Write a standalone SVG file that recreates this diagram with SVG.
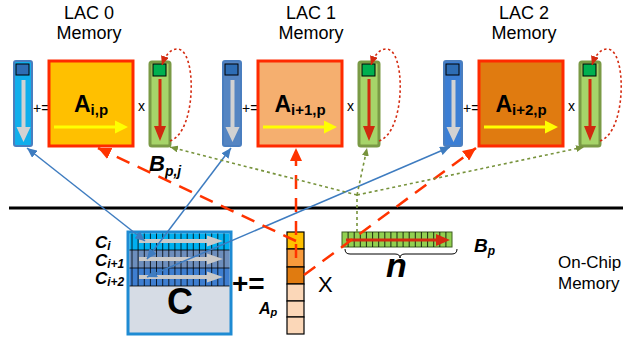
<svg xmlns="http://www.w3.org/2000/svg" width="626" height="341" viewBox="0 0 626 341">
<style>
text{font-family:"Liberation Sans",Arial,sans-serif;fill:#000}
.lbl{font-size:18px}
.op{font-size:14px}
.bi{font-weight:bold;font-style:italic}
.b{font-weight:bold}
.bcol{stroke:#4A7EBF;stroke-width:2}
.gcol{fill:#A6D469;stroke:#7A9A45;stroke-width:3}
.abox{stroke:#FF2A00;stroke-width:3}
.grid{stroke:#000;stroke-width:0.8}
.blue{stroke:#3E7CC0;stroke-width:1.5;fill:none}
.red{stroke:#FF3300;stroke-width:2.5;fill:none;stroke-dasharray:14 9}
.grn{stroke:#77933C;stroke-width:1.6;fill:none;stroke-dasharray:3 3}
.rdot{stroke:#D42A10;stroke-width:1.6;fill:none;stroke-dasharray:2.5 2.5}
</style>
<defs>
<marker id="mBlue" markerUnits="userSpaceOnUse" markerWidth="10" markerHeight="9" refX="10" refY="4.5" orient="auto-start-reverse"><path d="M0,0 L10,4.5 L0,9 z" fill="#3E7CC0"/></marker>
<marker id="mRed" markerUnits="userSpaceOnUse" markerWidth="13" markerHeight="12" refX="13" refY="6" orient="auto"><path d="M0,0 L13,6 L0,12 z" fill="#FF3300"/></marker>
<marker id="mGrn" markerUnits="userSpaceOnUse" markerWidth="8" markerHeight="7" refX="8" refY="3.5" orient="auto"><path d="M0,0 L8,3.5 L0,7 z" fill="#77933C"/></marker>
<marker id="mRdot" markerUnits="userSpaceOnUse" markerWidth="9" markerHeight="8" refX="9" refY="4" orient="auto"><path d="M0,0 L9,4 L0,8 z" fill="#D42A10"/></marker>
<g id="grayDown"><path d="M21.5,80 H25.5 V127 H30.5 L23.5,142 L16.5,127 H21.5 z" fill="#D2D2D2"/></g>
<g id="yelRight"><path d="M54,125.5 H115 V120.5 L128,127 L115,133.5 V128.5 H54 z" fill="#FFFF00"/></g>
<g id="redDown"><path d="M158.5,79 H161.5 V126 H166 L160,141 L154,126 H158.5 z" fill="#D0290F"/></g>
<g id="grayRight"><path d="M0,-2 H68 V-5.5 L84,0 L68,5.5 V2 H0 z" fill="#C9C9C9"/></g>
</defs>

<!-- LAC 0 -->
<g id="lac0">
  <text class="lbl" x="89" y="19" text-anchor="middle">LAC 0</text>
  <text class="lbl" x="89" y="39" text-anchor="middle">Memory</text>
  <g id="c_col0"><rect class="bcol" x="14" y="61" width="18" height="85" rx="2" fill="#10AEEC"/><rect x="16" y="64" width="13" height="11" fill="#2E6DB4" stroke="#000" stroke-width="1"/><use href="#grayDown"/></g>
  <text class="op" x="33" y="113">+=</text>
  <g id="a0"><rect class="abox" x="49" y="61" width="84" height="85" fill="#FFC000"/><use href="#yelRight"/>
    <text x="91" y="112" text-anchor="middle" class="b" font-size="23">A<tspan font-size="15" dy="3">i,p</tspan></text></g>
  <text class="op" x="138" y="111">x</text>
  <g id="b_col0"><rect class="gcol" x="150" y="62" width="20" height="84" rx="2"/><rect x="153" y="64" width="13" height="12" fill="#00B050" stroke="#000" stroke-width="1"/><use href="#redDown"/>
    <path class="rdot" d="M170,141 C197,132 197,48 177,49 C170,49 165,56 162,65" marker-end="url(#mRdot)"/></g>
</g>

<!-- LAC 1 -->
<g id="lac1">
  <text class="lbl" x="311" y="19" text-anchor="middle">LAC 1</text>
  <text class="lbl" x="311" y="39" text-anchor="middle">Memory</text>
  <g id="c_col1" transform="translate(209,0)"><rect class="bcol" x="14" y="61" width="18" height="85" rx="2" fill="#5585C2"/><rect x="16" y="64" width="13" height="11" fill="#2E6DB4" stroke="#000" stroke-width="1"/><use href="#grayDown"/></g>
  <text class="op" x="242" y="113">+=</text>
  <g id="a1"><rect class="abox" x="258" y="61" width="84" height="85" fill="#F5AF6F"/><use href="#yelRight" transform="translate(209,0)"/>
    <text x="300" y="112" text-anchor="middle" class="b" font-size="23">A<tspan font-size="15" dy="3">i+1,p</tspan></text></g>
  <text class="op" x="347" y="111">x</text>
  <g id="b_col1" transform="translate(209,0)"><rect class="gcol" x="150" y="62" width="20" height="84" rx="2"/><rect x="153" y="64" width="13" height="12" fill="#00B050" stroke="#000" stroke-width="1"/><use href="#redDown"/>
    <path class="rdot" d="M170,141 C197,132 197,48 177,49 C170,49 165,56 162,65" marker-end="url(#mRdot)"/></g>
</g>

<!-- LAC 2 -->
<g id="lac2">
  <text class="lbl" x="524" y="19" text-anchor="middle">LAC 2</text>
  <text class="lbl" x="524" y="39" text-anchor="middle">Memory</text>
  <g id="c_col2" transform="translate(430,0)"><rect class="bcol" x="14" y="61" width="18" height="85" rx="2" fill="#3B7ED4"/><rect x="16" y="64" width="13" height="11" fill="#2E6DB4" stroke="#000" stroke-width="1"/><use href="#grayDown"/></g>
  <text class="op" x="463" y="113">+=</text>
  <g id="a2"><rect class="abox" x="479" y="61" width="84" height="85" fill="#E07B10"/><use href="#yelRight" transform="translate(430,0)"/>
    <text x="521" y="112" text-anchor="middle" class="b" font-size="23">A<tspan font-size="15" dy="3">i+2,p</tspan></text></g>
  <text class="op" x="568" y="111">x</text>
  <g id="b_col2" transform="translate(430,0)"><rect class="gcol" x="150" y="62" width="20" height="84" rx="2"/><rect x="153" y="64" width="13" height="12" fill="#00B050" stroke="#000" stroke-width="1"/><use href="#redDown"/>
    <path class="rdot" d="M170,141 C197,132 197,48 177,49 C170,49 165,56 162,65" marker-end="url(#mRdot)"/></g>
</g>

<!-- boundary line -->
<line x1="9" y1="208" x2="623" y2="208" stroke="#000" stroke-width="3"/>

<!-- C matrix -->
<g id="cmatrix">
  <rect x="128" y="232" width="103" height="102" fill="#D6DCE5" stroke="#1E8BD3" stroke-width="3"/>
  <rect x="129.5" y="233.5" width="100" height="17" fill="#00B0F0"/>
  <rect x="129.5" y="250" width="100" height="18" fill="#6D8EBD"/>
  <rect x="129.5" y="268" width="100" height="18" fill="#3E7ED0"/>
  <g class="grid">
    <line x1="129.5" y1="250" x2="229.5" y2="250"/>
    <line x1="129.5" y1="268" x2="229.5" y2="268"/>
    <line x1="129.5" y1="286" x2="229.5" y2="286"/>
    <path d="M132,233.5V286M138.1,233.5V286M144.3,233.5V286M150.4,233.5V286M156.5,233.5V286M162.7,233.5V286M168.8,233.5V286M174.9,233.5V286M181,233.5V286M187.2,233.5V286M193.3,233.5V286M199.4,233.5V286M205.6,233.5V286M211.7,233.5V286M217.8,233.5V286M224,233.5V286"/>
  </g>
  <use href="#grayRight" transform="translate(139,241)"/>
  <use href="#grayRight" transform="translate(139,259)"/>
  <use href="#grayRight" transform="translate(139,277)"/>
  <text x="180" y="314" text-anchor="middle" class="b" font-size="36">C</text>
  <text class="bi" x="95" y="248" font-size="17">C<tspan font-size="12" dy="2">i</tspan></text>
  <text class="bi" x="95" y="266" font-size="17">C<tspan font-size="12" dy="2">i+1</tspan></text>
  <text class="bi" x="95" y="284" font-size="17">C<tspan font-size="12" dy="2">i+2</tspan></text>
</g>

<text class="b" x="232" y="293" font-size="28">+=</text>

<!-- A_p column -->
<g id="ap">
  <g stroke="#000" stroke-width="1.2">
    <rect x="287" y="232" width="17" height="17" fill="#FFC000"/>
    <rect x="287" y="249" width="17" height="18" fill="#F79A3C"/>
    <rect x="287" y="267" width="17" height="17" fill="#E07B10"/>
    <rect x="287" y="284" width="17" height="17" fill="#FBD7B8"/>
    <rect x="287" y="301" width="17" height="16" fill="#FBD7B8"/>
    <rect x="287" y="317" width="17" height="17" fill="#FBD7B8"/>
  </g>
  <text class="bi" x="259" y="314" font-size="16">A<tspan font-size="11" dy="2">p</tspan></text>
</g>

<text x="318" y="292" font-size="22">X</text>

<!-- B_p row -->
<g id="bp">
  <rect x="342" y="232" width="110" height="15" fill="#92D050" stroke="#3F5F20" stroke-width="1"/>
  <path class="grid" d="M348.1,232V247M354.2,232V247M360.3,232V247M366.4,232V247M372.6,232V247M378.7,232V247M384.8,232V247M390.9,232V247M397,232V247M403.1,232V247M409.2,232V247M415.3,232V247M421.4,232V247M427.6,232V247M433.7,232V247M439.8,232V247M445.9,232V247"/>
  <path d="M346,238.5 H436 V234 L450,240 L436,246 V241.5 H346 z" fill="#D42A10"/>
  <path d="M345,249 Q345,254 350,254 H395 Q400,254 400,258 Q400,254 405,254 H452 Q457,254 457,249" fill="none" stroke="#000" stroke-width="1"/>
  <text class="bi" x="386" y="277" font-size="34">n</text>
  <text class="bi" x="474" y="252" font-size="19">B<tspan font-size="12" dy="3">p</tspan></text>
</g>

<text class="bi" x="149" y="171" font-size="22">B<tspan font-size="14" dy="5">p,j</tspan></text>

<text x="558" y="268" font-size="17">On-Chip</text>
<text x="558" y="289" font-size="17">Memory</text>

<!-- connectors -->
<g id="connectors">
  <line class="blue" x1="145" y1="241" x2="27" y2="148" marker-start="url(#mBlue)" marker-end="url(#mBlue)"/>
  <line class="blue" x1="147" y1="259" x2="231" y2="148" marker-start="url(#mBlue)" marker-end="url(#mBlue)"/>
  <line class="blue" x1="147" y1="277" x2="450" y2="147" marker-start="url(#mBlue)" marker-end="url(#mBlue)"/>

  <line class="red" x1="296" y1="241" x2="98" y2="148" marker-end="url(#mRed)"/>
  <line class="red" x1="296" y1="258" x2="296" y2="148" marker-end="url(#mRed)"/>
  <line class="red" x1="304" y1="275" x2="476" y2="148" marker-end="url(#mRed)"/>

  <line class="grn" x1="357" y1="232" x2="357" y2="195"/>
  <line class="grn" x1="357" y1="195" x2="170" y2="147" marker-end="url(#mGrn)"/>
  <line class="grn" x1="357" y1="195" x2="367" y2="148" marker-end="url(#mGrn)"/>
  <line class="grn" x1="357" y1="195" x2="584" y2="147" marker-end="url(#mGrn)"/>
</g>
</svg>
